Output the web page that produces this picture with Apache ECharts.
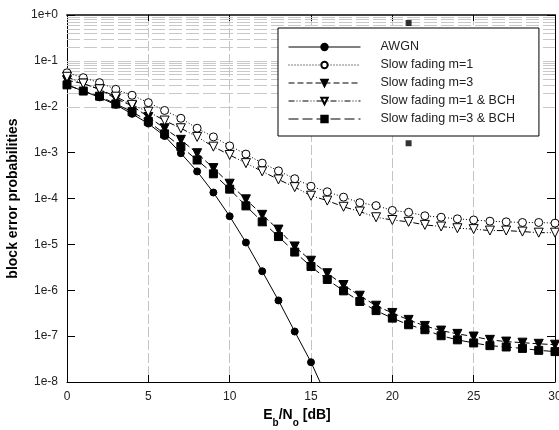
<!DOCTYPE html>
<html>
<head>
<meta charset="utf-8">
<script src="https://cdn.jsdelivr.net/npm/echarts@6/dist/echarts.min.js"></script>
<style>html,body{margin:0;padding:0;background:#fff;}#c{width:559px;height:430px;}</style>
</head>
<body>
<div id="c"></div>
<script>
var snr = [0,1,2,3,4,5,6,7,8,9,10,11,12,13,14,15,16,17,18,19,20,21,22,23,24,25,26,27,28,29,30];
var awgn = [3.0e-2,2.2e-2,1.6e-2,1.1e-2,7.0e-3,4.3e-3,2.3e-3,9.7e-4,3.9e-4,1.35e-4,4.1e-5,1.1e-5,2.6e-6,6.0e-7,1.26e-7,2.7e-8,4.5e-9];
var fadingM1 = [5.5e-2,4.3e-2,3.35e-2,2.4e-2,1.78e-2,1.23e-2,8.3e-3,5.6e-3,3.4e-3,2.2e-3,1.4e-3,9.3e-4,5.9e-4,4.0e-4,2.7e-4,1.85e-4,1.4e-4,1.07e-4,8.1e-5,7.0e-5,5.5e-5,5.0e-5,4.2e-5,3.9e-5,3.6e-5,3.4e-5,3.2e-5,3.1e-5,3.0e-5,3.0e-5,2.9e-5];
var fadingM3 = [3.8e-2,3.2e-2,2.4e-2,1.5e-2,1.05e-2,6.0e-3,3.4e-3,1.9e-3,9.7e-4,4.6e-4,2.1e-4,9.6e-5,4.4e-5,2.1e-5,9.0e-6,4.4e-6,2.35e-6,1.3e-6,7.6e-7,4.6e-7,3.2e-7,2.26e-7,1.67e-7,1.32e-7,1.12e-7,9.8e-8,8.3e-8,7.6e-8,7.2e-8,6.8e-8,6.5e-8];
var fadingM1Bch = [4.5e-2,3.2e-2,2.4e-2,1.66e-2,1.1e-2,7.8e-3,5.0e-3,3.4e-3,2.2e-3,1.35e-3,8.9e-4,5.9e-4,3.9e-4,2.6e-4,1.77e-4,1.15e-4,9.0e-5,6.6e-5,5.2e-5,3.9e-5,3.4e-5,3.1e-5,2.66e-5,2.45e-5,2.25e-5,2.15e-5,2.0e-5,2.0e-5,1.9e-5,1.8e-5,1.8e-5];
var fadingM3Bch = [3.0e-2,2.2e-2,1.7e-2,1.15e-2,7.8e-3,4.8e-3,2.56e-3,1.35e-3,6.9e-4,3.45e-4,1.6e-4,6.9e-5,3.1e-5,1.48e-5,6.8e-6,3.3e-6,1.72e-6,9.7e-7,5.7e-7,3.6e-7,2.47e-7,1.77e-7,1.38e-7,1.02e-7,8.3e-8,7.1e-8,6.2e-8,5.8e-8,5.4e-8,4.9e-8,4.6e-8];
var strayX = [21, 21];
var strayY = [0.67, 1.6e-3];
var decades = [-8,-7,-6,-5,-4,-3,-2,-1,0];
var minorMantissas = [2,3,4,5,6,7,8,9];

function pairs(xs, ys){ return ys.map(function(v,i){ return [xs[i], v]; }); }
function pow10(k){ return Math.pow(10,k); }
function expLabel(v){
  var e = Math.round(Math.log10(v));
  return '1e' + (e >= 0 ? '+' + e : e);
}

var gridLines = [];
decades.forEach(function(k){
  if (k < 0) minorMantissas.forEach(function(m){ gridLines.push({yAxis: m*pow10(k)}); });
  if (k > -8 && k < 0) gridLines.push({yAxis: pow10(k)});
});

var font = 'Arial, "Liberation Sans", Helvetica, sans-serif';
var gridDash = [13,4];
var chart = echarts.init(document.getElementById('c'), null, {renderer:'canvas'});

function lineSeries(name, data, lineType, symbol, filled, size, rotate){
  return {
    name: name, type: 'line', data: data, z: 5,
    symbol: symbol, symbolSize: size, symbolRotate: rotate || 0,
    showAllSymbol: true, clip: true,
    lineStyle: {color: '#000', width: 1, type: lineType},
    itemStyle: {color: filled ? '#000' : '#fff', borderColor: '#000', borderWidth: 1, opacity: 1},
    emphasis: {disabled: true}
  };
}

var option = {
  animation: false,
  backgroundColor: '#fff',
  textStyle: {fontFamily: font},
  grid: {left: 67, right: 4, top: 15, bottom: 48, containLabel: false, outerBoundsMode: 'none'},
  legend: {
    z: 20,
    orient: 'vertical', left: 278, top: 28,
    backgroundColor: '#fff', borderColor: '#000', borderWidth: 1,
    padding: [12, 24, 10, 10], itemGap: 4,
    itemWidth: 72, itemHeight: 8,
    lineStyle: {width: 1},
    textStyle: {fontFamily: font, fontSize: 12.5, color: '#222', padding: [0,0,0,15], lineHeight: 14},
    data: ['AWGN','Slow fading m=1','Slow fading m=3','Slow fading m=1 & BCH','Slow fading m=3 & BCH']
  },
  xAxis: [{
    type: 'value', min: 0, max: 30, interval: 5, position: 'bottom',
    axisLine: {show: true, onZero: false, lineStyle: {color: '#000', width: 1}},
    axisTick: {show: true, inside: true, length: 7, lineStyle: {color: '#000'}},
    axisLabel: {fontSize: 12, color: '#222', margin: 9, fontFamily: font},
    splitLine: {show: true, lineStyle: {color: '#c4c4c4', width: 1, type: [10,3]}},
    name: '{b|E}{s|b}{b|/N}{s|o}{b| [dB]}',
    nameLocation: 'middle', nameGap: 21,
    nameTextStyle: {padding: [0, 28, 0, 0], rich: {
      b: {fontSize: 14, fontWeight: 'bold', color: '#000', fontFamily: font, lineHeight: 20, verticalAlign: 'top'},
      s: {fontSize: 10, fontWeight: 'bold', color: '#000', fontFamily: font, lineHeight: 20, verticalAlign: 'bottom'}
    }}
  },{
    type: 'value', min: 0, max: 30, interval: 5, position: 'top',
    axisLine: {show: true, onZero: false, lineStyle: {color: '#444', width: 2}},
    axisTick: {show: true, inside: true, length: 6, lineStyle: {color: '#000'}},
    axisLabel: {show: false}, splitLine: {show: false}
  }],
  yAxis: [{
    type: 'log', logBase: 10, min: 1e-8, max: 1, interval: 1, position: 'left',
    axisLine: {show: true, onZero: false, lineStyle: {color: '#000', width: 1}},
    axisTick: {show: true, inside: true, length: 8, lineStyle: {color: '#000'}},
    axisLabel: {fontSize: 12, color: '#222', margin: 9, fontFamily: font, formatter: expLabel},
    splitLine: {show: false},
    minorTick: {show: false}, minorSplitLine: {show: false},
    name: 'block error probabilities', nameLocation: 'middle', nameGap: 40,
    nameTextStyle: {fontSize: 14, fontWeight: 'bold', color: '#000', fontFamily: font}
  },{
    type: 'log', logBase: 10, min: 1e-8, max: 1, interval: 1, position: 'right',
    axisLine: {show: true, onZero: false, lineStyle: {color: '#000', width: 1}},
    axisTick: {show: true, inside: true, length: 8, lineStyle: {color: '#000'}},
    axisLabel: {show: false}, splitLine: {show: false}
  }],
  series: [
    {
      name: 'grid', type: 'line', data: [], z: 1, silent: true,
      markLine: {
        z: 1,
        silent: true, symbol: ['none','none'], label: {show: false},
        lineStyle: {color: '#c8c8c8', width: 1, type: gridDash},
        emphasis: {disabled: true},
        data: gridLines
      }
    },
    lineSeries('AWGN', pairs(snr, awgn), 'solid', 'circle', true, 7),
    lineSeries('Slow fading m=1', pairs(snr, fadingM1), [1,2], 'circle', false, 8),
    lineSeries('Slow fading m=3', pairs(snr, fadingM3), [6,3], 'triangle', true, 9, 180),
    lineSeries('Slow fading m=1 & BCH', pairs(snr, fadingM1Bch), [6,2,1,2,1,2], 'triangle', false, 9, 180),
    lineSeries('Slow fading m=3 & BCH', pairs(snr, fadingM3Bch), [10,4], 'rect', true, 8),
    {
      name: 'stray', type: 'scatter', data: pairs(strayX, strayY), z: 6,
      symbol: 'rect', symbolSize: 6, itemStyle: {color: '#000'}, silent: true
    }
  ]
};
chart.setOption(option);
</script>
</body>
</html>
